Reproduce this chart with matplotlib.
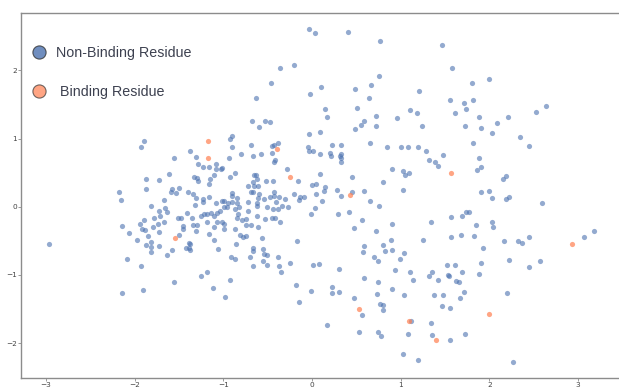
import matplotlib
matplotlib.use("Agg")
import matplotlib.pyplot as plt
from matplotlib.lines import Line2D

# non-binding residues (blue)
blue_x = [
    # left-top cluster
    -1.89, -1.93, -0.905, -0.92, -1.37, -0.905, -0.80, -1.55, -1.31, -0.94, -1.29, -1.23, -1.16,
    -1.08, -1.08, -1.03, -1.01, -0.87, -1.61, -1.10, -1.33, -1.30, -1.28, -1.15, -1.16, -0.92,
    -1.87, -1.73, -1.87, -1.58, -1.50, -1.59, -1.53, -1.40, -1.34, -1.31, -1.23, -1.23, -1.16,
    -0.90, -0.90, -0.84, -1.67, -1.32, -1.08, -1.02, -0.99, -0.95, -0.90, -0.84,
    # centre-top cluster
    -0.68, -0.53, -0.47, -0.60, 0.49, 0.55, -0.03, 0.09, -0.69, -0.45, -0.43, -0.38, -0.66,
    -0.57, -0.45, -0.05, -0.03, 0.015, 0.09, 0.23, 0.33, 0.20, 0.21, 0.33, 0.31, 0.33, 0.33,
    -0.42, -0.43, -0.28, 0.09, -0.16, 0.45, -0.65, -0.63, -0.62, -0.67, -0.72, -0.65, -0.61,
    -0.52, -0.44, 0.00, 0.05, 0.15, 0.14, 0.28, 0.45, 0.59, -0.69, -0.66, -0.60, -0.61, -0.54,
    -0.47, -0.43, -0.43, -0.37, -0.30, -0.20, -0.14, -0.15, -0.09, 0.05, 0.11, 0.33, -0.72,
    -0.62, -0.41,
    # left-bottom cluster
    -1.82, -1.66, -1.72, -1.63, -1.41, -1.22, -1.25, -1.18, -1.14, -1.10, -1.07, -1.04, -0.99,
    -0.96, -0.87, -0.82, -0.83, -1.89, -1.78, -1.71, -1.67, -1.51, -1.48, -1.35, -1.18, -1.07,
    -1.02, -0.99, -0.85, -0.79, -1.94, -1.74, -1.34, -1.30, -1.45, -1.11, -0.99, -0.87, -1.92,
    -1.88, -1.79, -1.72, -1.31, -1.45, -0.81, -0.78, -2.06, -1.85, -1.50, -1.16, -1.10, -1.39,
    -1.37, -0.86, -1.97, -1.82, -1.72, -1.87, -1.82, -1.81, -1.58, -1.42, -1.39, -1.37, -1.06,
    -1.64, -2.09, -0.91, -0.87, -1.93, -1.25, -1.18, -0.92, -1.56, -1.12, -1.91,
    # centre-bottom cluster
    -0.62, -0.51, -0.44, -0.38, -0.34, -0.27, 0.03, -0.01, 0.29, 0.42, -0.72, -0.62, -0.53,
    -0.45, -0.42, -0.36, -0.74, -0.74, -0.69, -0.61, 0.56, 0.47, -0.74, -0.56, -0.17, 0.59,
    0.57, -0.67, -0.67, -0.70, -0.55, -0.54, -0.51, -0.55, -0.66, -0.51, -0.38, -0.37, -0.35,
    -0.25, 0.01, 0.08, 0.30, 0.59, -0.18, -0.01, 0.22, 0.22, 0.30,
    # outliers and top / bottom
    -2.97, -2.17, -2.15, -2.14, -2.14, -0.36, -0.20, -0.46, -0.63, -0.03, 0.03, 0.40, 0.105,
    0.48, -0.02, 0.15, 0.17, 0.51, 0.59, -0.98, -0.15, 0.17, 0.56, 0.53, 0.47,
    # right-top
    0.77, 1.46, 1.58, 0.75, 0.66, 0.64, 1.21, 1.80, 2.00, 1.55, 1.71, 1.81, 1.73, 1.61, 1.11,
    1.18, 0.96, 0.72, 2.53, 2.64, 1.88, 2.21, 0.72, 1.24, 1.72, 1.90, 2.09, 2.03, 2.34, 2.44,
    0.65, 0.84, 1.00, 1.08, 1.19, 1.29, 1.48, 1.32, 1.39, 1.42, 1.82, 1.88, 1.91, 1.86, 0.90,
    1.02, 1.05, 1.09, 0.80, 2.15, 2.19,
    # right-bottom
    1.02, 0.65, 0.75, 0.90, 0.72, 1.25, 1.34, 0.80, 0.82, 0.90, 0.89, 1.04, 0.99, 0.70, 0.74,
    0.93, 1.10, 1.14, 1.32, 1.35, 1.42, 1.52, 1.53, 1.54, 1.61, 1.69, 1.62, 1.66, 1.71, 1.67,
    1.88, 1.91, 1.93, 1.83, 1.68, 1.57, 1.85, 1.69, 1.57, 1.73, 1.77, 1.91, 1.99, 2.03, 2.19,
    2.22, 2.59, 2.03, 2.04, 2.16, 2.32, 2.37, 2.45, 2.22, 2.45, 2.57, 2.20, 3.06, 3.18, 2.26,
    1.56, 1.35, 1.34, 1.12, 1.08, 1.72, 1.48, 1.37, 1.46, 1.55, 1.02, 1.19, 0.74, 0.78, 0.73,
    0.80, 0.80, 0.77, 0.74, 1.04, 0.90,
]
blue_y = [
    0.97, 0.87, 1.04, 0.99, 0.82, 0.87, 0.77, 0.72, 0.73, 0.72, 0.63, 0.58, 0.58,
    0.62, 0.55, 0.55, 0.57, 0.50, 0.48, 0.47, 0.44, 0.42, 0.38, 0.40, 0.34, 0.44,
    0.40, 0.39, 0.26, 0.26, 0.28, 0.21, 0.20, 0.21, 0.19, 0.13, 0.12, 0.07, 0.15,
    0.20, 0.16, 0.13, 0.10, 0.03, 0.06, 0.09, 0.08, 0.06, 0.07, 0.06,
    1.25, 1.26, 1.24, 1.17, 1.14, 1.20, 1.06, 1.09, 0.90, 0.89, 0.91, 0.94, 0.75,
    0.78, 0.79, 0.87, 0.82, 0.82, 0.78, 0.91, 0.90, 0.79, 0.75, 0.77, 0.74, 0.72, 0.65,
    0.68, 0.65, 0.55, 0.48, 0.38, 0.44, 0.47, 0.46, 0.41, 0.37, 0.31, 0.31, 0.30,
    0.38, 0.38, 0.32, 0.33, 0.29, 0.23, 0.25, 0.22, 0.23, 0.22, 0.22, 0.18, 0.13, 0.11,
    0.14, 0.21, 0.16, 0.15, 0.12, 0.19, 0.15, 0.10, 0.14, 0.18, 0.09, 0.16, 0.07,
    0.06, 0.07,
    0.01, -0.02, -0.06, -0.08, -0.09, -0.10, -0.13, -0.11, -0.09, -0.13, -0.09, -0.06, 0.00,
    0.00, -0.03, 0.00, -0.11, -0.20, -0.17, -0.14, -0.22, -0.17, -0.17, -0.17, -0.23, -0.23,
    -0.23, -0.26, -0.17, -0.20, -0.25, -0.26, -0.27, -0.27, -0.28, -0.29, -0.32, -0.33, -0.33,
    -0.34, -0.30, -0.37, -0.35, -0.33, -0.41, -0.44, -0.39, -0.43, -0.41, -0.40, -0.48, -0.53,
    -0.55, -0.55, -0.48, -0.51, -0.57, -0.56, -0.59, -0.66, -0.63, -0.61, -0.61, -0.64, -0.62,
    -0.71, -0.76, -0.74, -0.77, -0.87, -1.01, -0.95, -1.07, -1.10, -1.19, -1.22,
    0.01, -0.01, -0.04, -0.03, 0.01, -0.01, -0.02, -0.11, -0.11, -0.07, -0.06, -0.14, -0.18,
    -0.17, -0.17, -0.23, -0.18, -0.27, -0.27, -0.30, -0.20, -0.31, -0.43, -0.46, -0.50, -0.57,
    -0.67, -0.60, -0.65, -0.73, -0.62, -0.69, -0.71, -0.79, -0.87, -0.86, -0.73, -0.87, -0.96,
    -0.83, -0.85, -0.84, -0.91, -1.04, -1.14, -1.23, -1.17, -1.26, -1.25,
    -0.54, 0.22, 0.10, -0.28, -1.27, 2.03, 2.08, 1.81, 1.60, 2.61, 2.54, 2.56, 1.76,
    1.73, 1.65, 1.43, 1.31, 1.45, 1.25, -1.33, -1.39, -1.73, -1.59, -1.84, -1.34,
    2.43, 2.37, 2.04, 1.92, 1.79, 1.59, 1.69, 1.81, 1.87, 1.57, 1.52, 1.57, 1.44, 1.38, 1.42,
    1.38, 1.30, 1.33, 1.39, 1.48, 1.32, 1.31, 1.18, 1.19, 1.19, 1.15, 1.23, 1.08, 1.02, 0.89,
    0.93, 0.87, 0.87, 0.88, 0.87, 0.82, 0.76, 0.68, 0.66, 0.60, 0.93, 0.72, 0.58, 0.54, 0.55,
    0.52, 0.46, 0.49, 0.37, 0.41, 0.45,
    0.24, 0.08, 0.01, -0.25, -0.35, -0.49, -0.23, -0.56, -0.65, -0.63, -0.49, -0.68, -0.77, -0.73, -0.79,
    -0.93, -0.96, -1.07, -1.02, -0.96, -1.07, -0.86, -1.00, -1.02, -0.86, -0.95, -1.09, -1.11, -1.25, -1.34,
    -0.99, -0.82, -0.60, -0.43, -0.41, -0.44, -0.27, -0.14, -0.15, -0.08, -0.08, 0.22, 0.23, 0.13, 0.11,
    0.15, 0.06, -0.22, -0.29, -0.50, -0.50, -0.53, -0.44, -0.78, -0.89, -0.79, -1.27, -0.44, -0.36, -2.28,
    -1.95, -1.88, -1.71, -1.68, -1.87, -1.86, -1.30, -1.30, -1.46, -1.48, -2.16, -2.24, -1.84, -1.89, -1.28,
    -1.44, -1.51, -1.42, -1.10, -1.30, -1.21,
]

# binding residues (orange)
orange_x = [-1.17, -1.17, -0.40, -0.25, 0.43, -1.54, 1.57, 0.53, 1.09, 1.40, 1.99, 2.93]
orange_y = [0.96, 0.71, 0.84, 0.43, 0.17, -0.46, 0.49, -1.50, -1.68, -1.96, -1.57, -0.55]

labels = ["Non-Binding Residue", " Binding Residue"]
blue = "#4c72b0"
orange = "#ff7f50"

fig = plt.figure(figsize=(6.19, 3.91), dpi=100)
ax = fig.add_axes([21 / 619, 13 / 391, 598 / 619, 365 / 391])

ax.scatter(blue_x, blue_y, s=14, color=blue, alpha=0.6, linewidths=0)
ax.scatter(orange_x, orange_y, s=14, color=orange, alpha=0.7, linewidths=0)

ax.set_xlim(-3.28, 3.46)
ax.set_ylim(-2.51, 2.84)
ax.set_xticks([-3, -2, -1, 0, 1, 2, 3])
ax.set_yticks([-2, -1, 0, 1, 2])

for side in ["left", "bottom", "top"]:
    ax.spines[side].set_color("#8c8c8c")
    ax.spines[side].set_linewidth(1.0)
ax.spines["right"].set_visible(False)
ax.tick_params(labelsize=5.3, length=2.2, width=0.6, color="#8c8c8c",
               labelcolor="#444444", pad=0.6)

handles = [
    Line2D([], [], marker="o", linestyle="none", markersize=9.5, markerfacecolor=blue,
           markeredgecolor="#333333", markeredgewidth=0.8, alpha=0.8),
    Line2D([], [], marker="o", linestyle="none", markersize=9.5, markerfacecolor=orange,
           markeredgecolor="#333333", markeredgewidth=0.8, alpha=0.7),
]
leg = ax.legend(handles, labels, loc="upper left", bbox_to_anchor=(32 / 619, 1 - 46 / 391),
                bbox_transform=fig.transFigure, frameon=False, borderpad=0, borderaxespad=0,
                handlelength=1.0, handletextpad=0.68, labelspacing=1.78,
                prop={"family": "Liberation Sans", "size": 10.3})
for t in leg.get_texts():
    t.set_color("#3d4150")

fig.savefig("out.png", dpi=100)
